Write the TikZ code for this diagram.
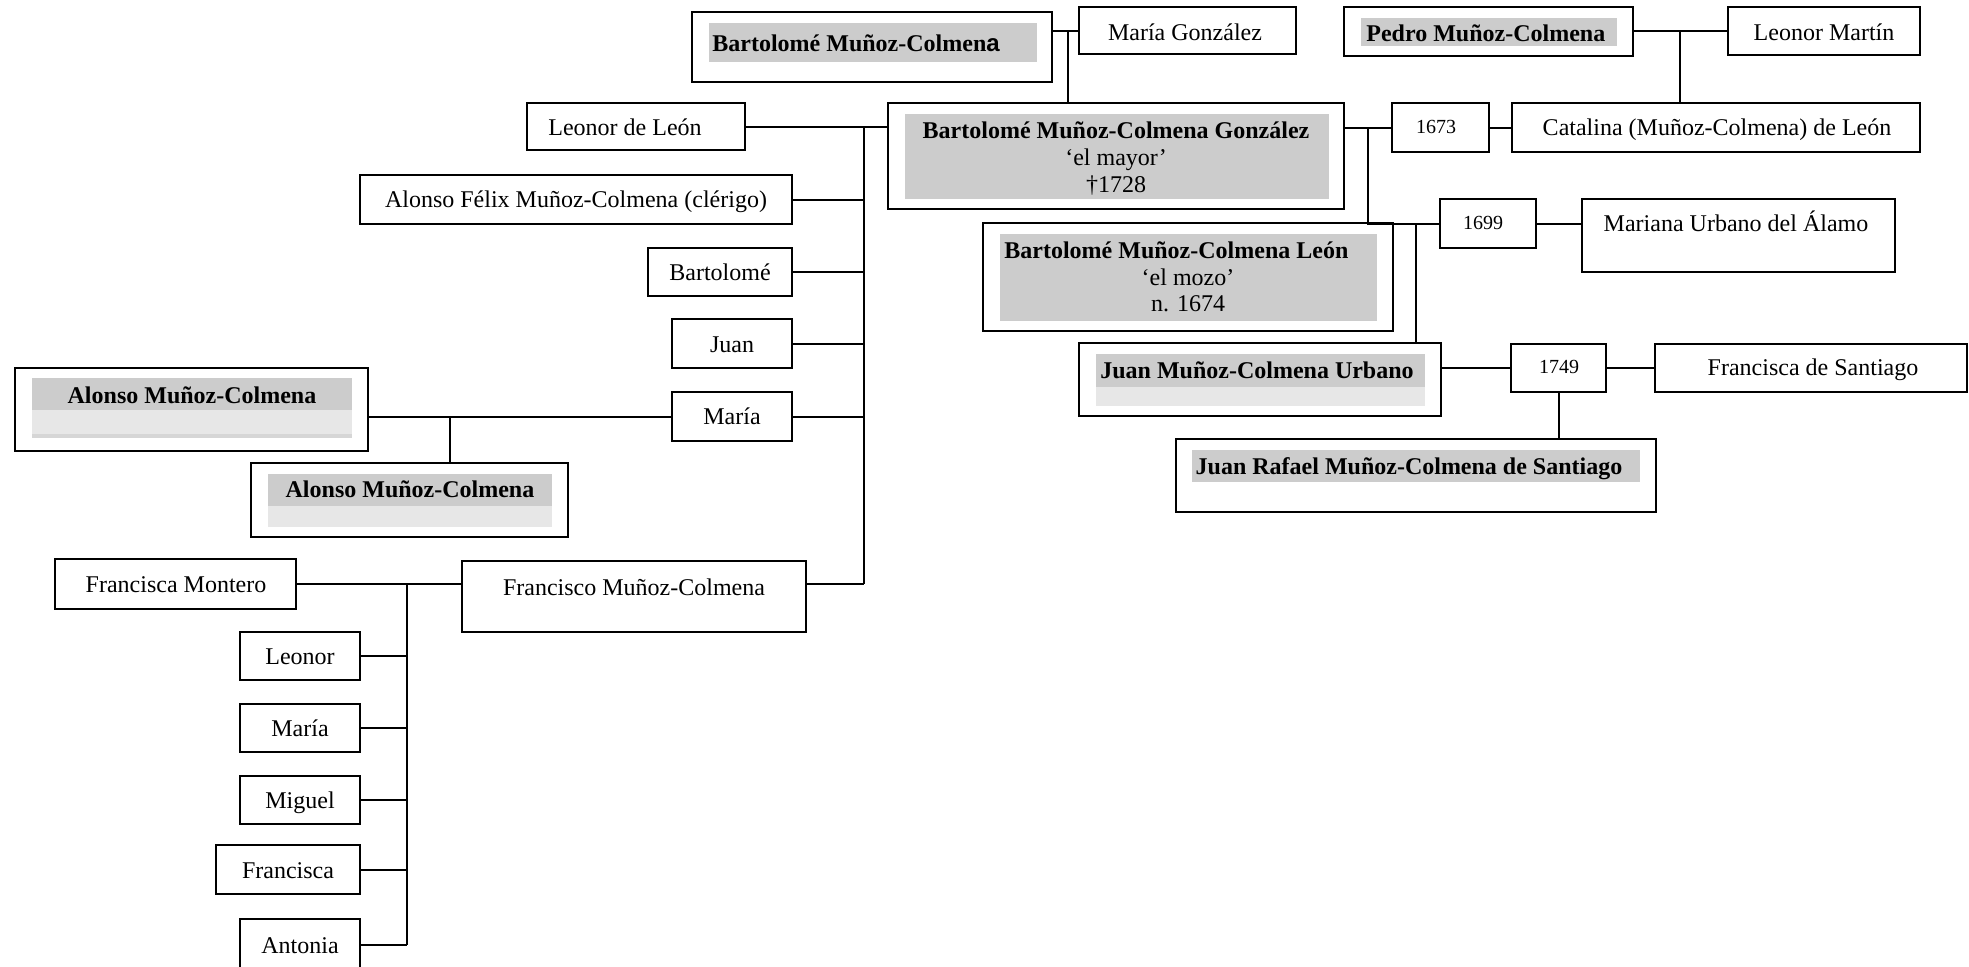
\documentclass[tikz,border=0pt]{standalone}
\usepackage{fontspec}
\setmainfont{Liberation Serif}
\newfontfamily\arialfont{Liberation Sans}
\usetikzlibrary{fit}
\definecolor{gD}{RGB}{204,204,204}
\definecolor{gL}{RGB}{231,231,231}
\definecolor{gS}{RGB}{214,214,214}
\tikzset{
  famebox/.style={draw, line width=1.2pt, inner sep=0pt},
  conn/.style={line width=1pt},
  txt/.style={inner sep=0pt, text height=8pt, text depth=0pt, font=\fontsize{12}{13.8}\selectfont},
  btxt/.style={txt, font=\fontsize{12}{13.8}\selectfont\bfseries},
  ytxt/.style={inner sep=0pt, text height=6.8pt, text depth=0pt, font=\fontsize{10}{12}\selectfont},
  darkg/.style={fill=gD},
  lightg/.style={fill=gL}
}
\begin{document}
\begin{tikzpicture}[x=0.5pt,y=-0.5pt]
\fill[white] (0,0) rectangle (1969,966);
\useasboundingbox (0,0) rectangle (1969,966);

% ---------- grey fills ----------
\fill[darkg] (709,23) rectangle (1037,62);
\fill[darkg] (1361,18) rectangle (1617,46);
\fill[darkg] (905,114) rectangle (1329,199);
\fill[darkg] (1000,234) rectangle (1377,321);
\fill[darkg] (32,378) rectangle (352,410);
\fill[lightg] (32,410) rectangle (352,438);
\fill[gS] (32,434) rectangle (352,438);
\fill[darkg] (268,474) rectangle (552,506);
\fill[lightg] (268,506) rectangle (552,527);
\fill[darkg] (1096,354) rectangle (1425,387);
\fill[lightg] (1096,387) rectangle (1425,406);
\fill[darkg] (1192,450) rectangle (1640,482);

% ---------- boxes ----------
\node[famebox, fit={(692,12) (1052,82)}] (bmc) {};
\node[famebox, fit={(1079,7) (1296,54)}] (mg) {};
\node[famebox, fit={(1344,7) (1633,56)}] (pedro) {};
\node[famebox, fit={(1728,7) (1920,55)}] (lmartin) {};
\node[famebox, fit={(527,103) (745,150)}] (leonorleon) {};
\node[famebox, fit={(888,103) (1344,209)}] (bmcg) {};
\node[famebox, fit={(1392,103) (1489,152)}] (y1673) {};
\node[famebox, fit={(1512,103) (1920,152)}] (catalina) {};
\node[famebox, fit={(360,175) (792,224)}] (clerigo) {};
\node[famebox, fit={(648,248) (792,296)}] (bartolome) {};
\node[famebox, fit={(672,319) (792,368)}] (juan) {};
\node[famebox, fit={(672,392) (792,441)}] (maria) {};
\node[famebox, fit={(15,368) (368,451)}] (alonso1) {};
\node[famebox, fit={(251,463) (568,537)}] (alonso2) {};
\node[famebox, fit={(55,559) (296,609)}] (fmontero) {};
\node[famebox, fit={(462,561) (806,632)}] (francisco) {};
\node[famebox, fit={(240,632) (360,680)}] (leonor2) {};
\node[famebox, fit={(240,704) (360,752)}] (maria2) {};
\node[famebox, fit={(240,776) (360,824)}] (miguel) {};
\node[famebox, fit={(216,845) (360,894)}] (francisca) {};
\node[famebox, fit={(240,919) (360,970)}] (antonia) {};
\node[famebox, fit={(983,223) (1393,331)}] (bmcl) {};
\node[famebox, fit={(1440,199) (1536,248)}] (y1699) {};
\node[famebox, fit={(1582,199) (1895,272)}] (mariana) {};
\node[famebox, fit={(1079,343) (1441,416)}] (jmcu) {};
\node[famebox, fit={(1511,344) (1606,392)}] (y1749) {};
\node[famebox, fit={(1655,344) (1967,392)}] (fsantiago) {};
\node[famebox, fit={(1176,439) (1656,512)}] (jrafael) {};

% ---------- texts ----------
\node[btxt, anchor=west] (bmc-t) at (712,43) {Bartolomé Muñoz-Colmen{\arialfont\bfseries a}};
\node[txt] (mg-t) at (1185,32) {María González};
\node[btxt, anchor=west] (pedro-t) at (1366,33) {Pedro Muñoz-Colmena};
\node[txt] (lmartin-t) at (1824,32) {Leonor Martín};
\node[txt] (leonorleon-t) at (625,127) {Leonor de León};
\node[btxt] (bmcg-t1) at (1116,130) {Bartolomé Muñoz-Colmena González};
\node[txt] (bmcg-t2) at (1116,157) {‘el mayor’};
\node[txt] (bmcg-t3) at (1116,184) {†1728};
\node[ytxt] (y1673-t) at (1436,127) {1673};
\node[txt] (catalina-t) at (1717,127) {Catalina (Muñoz-Colmena) de León};
\node[txt] (clerigo-t) at (576,199) {Alonso Félix Muñoz-Colmena (clérigo)};
\node[txt] (bartolome-t) at (720,272) {Bartolomé};
\node[txt] (juan-t) at (732,344) {Juan};
\node[txt] (maria-t) at (732,416) {María};
\node[btxt] (alonso1-t) at (192,395) {Alonso Muñoz-Colmena};
\node[btxt] (alonso2-t) at (410,489) {Alonso Muñoz-Colmena};
\node[txt] (fmontero-t) at (176,584) {Francisca Montero};
\node[txt] (francisco-t) at (634,587) {Francisco Muñoz-Colmena};
\node[txt] (leonor2-t) at (300,656) {Leonor};
\node[txt] (maria2-t) at (300,728) {María};
\node[txt] (miguel-t) at (300,800) {Miguel};
\node[txt] (francisca-t) at (288,870) {Francisca};
\node[txt] (antonia-t) at (300,945) {Antonia};
\node[btxt, anchor=west] (bmcl-t1) at (1004,250) {Bartolomé Muñoz-Colmena León};
\node[txt] (bmcl-t2) at (1188,277) {‘el mozo’};
\node[txt] (bmcl-t3) at (1188,303) {n. 1674};
\node[ytxt] (y1699-t) at (1483,223) {1699};
\node[txt] (mariana-t) at (1736,223) {Mariana Urbano del Álamo};
\node[btxt] (jmcu-t) at (1257,370) {Juan Muñoz-Colmena Urbano};
\node[ytxt] (y1749-t) at (1559,367) {1749};
\node[txt] (fsantiago-t) at (1813,367) {Francisca de Santiago};
\node[btxt] (jrafael-t) at (1409,466) {Juan Rafael Muñoz-Colmena de Santiago};

% ---------- junction coordinates ----------
\coordinate (jbm) at (1068,31);
\coordinate (jpl) at (1680,31);
\coordinate (sp) at (864,127);
\coordinate (jbc) at (1368,127);
\coordinate (jkid) at (1416,223);
\coordinate (jam) at (450,416);
\coordinate (jff) at (407,584);

% ---------- connectors ----------
\draw[conn] (bmc.east |- mg.west) -- (mg.west);
\draw[conn] (jbm) -- (jbm |- bmcg.north);
\draw[conn] (pedro.east |- lmartin.west) -- (lmartin.west);
\draw[conn] (jpl) -- (jpl |- catalina.north);
\draw[conn] (leonorleon.east) -- (leonorleon.east -| bmcg.west);
\draw[conn] (sp) -- (sp |- fmontero.east);
\draw[conn] (clerigo.east) -- (clerigo.east -| sp);
\draw[conn] (bartolome.east) -- (bartolome.east -| sp);
\draw[conn] (juan.east) -- (juan.east -| sp);
\draw[conn] (maria.east) -- (maria.east -| sp);
\draw[conn] (francisco.east |- fmontero.east) -- (sp |- fmontero.east);
\draw[conn] (bmcg.east |- y1673.west) -- (y1673.west);
\draw[conn] (y1673.east) -- (catalina.west);
\draw[conn] (jbc) -- (jbc |- y1699.west) -- (y1699.west);
\draw[conn] (jkid) -- (jkid |- jmcu.north);
\draw[conn] (y1699.east) -- (mariana.west |- y1699.east);
\draw[conn] (jmcu.east |- y1749.west) -- (y1749.west);
\draw[conn] (y1749.east) -- (fsantiago.west);
\draw[conn] (y1749.south) -- (y1749.south |- jrafael.north);
\draw[conn] (alonso1.east |- maria.west) -- (maria.west);
\draw[conn] (jam) -- (jam |- alonso2.north);
\draw[conn] (fmontero.east) -- (francisco.west |- fmontero.east);
\draw[conn] (jff) -- (jff |- antonia.west);
\draw[conn] (leonor2.east) -- (leonor2.east -| jff);
\draw[conn] (maria2.east) -- (maria2.east -| jff);
\draw[conn] (miguel.east) -- (miguel.east -| jff);
\draw[conn] (francisca.east) -- (francisca.east -| jff);
\draw[conn] (antonia.east) -- (antonia.east -| jff);
\end{tikzpicture}
\end{document}
